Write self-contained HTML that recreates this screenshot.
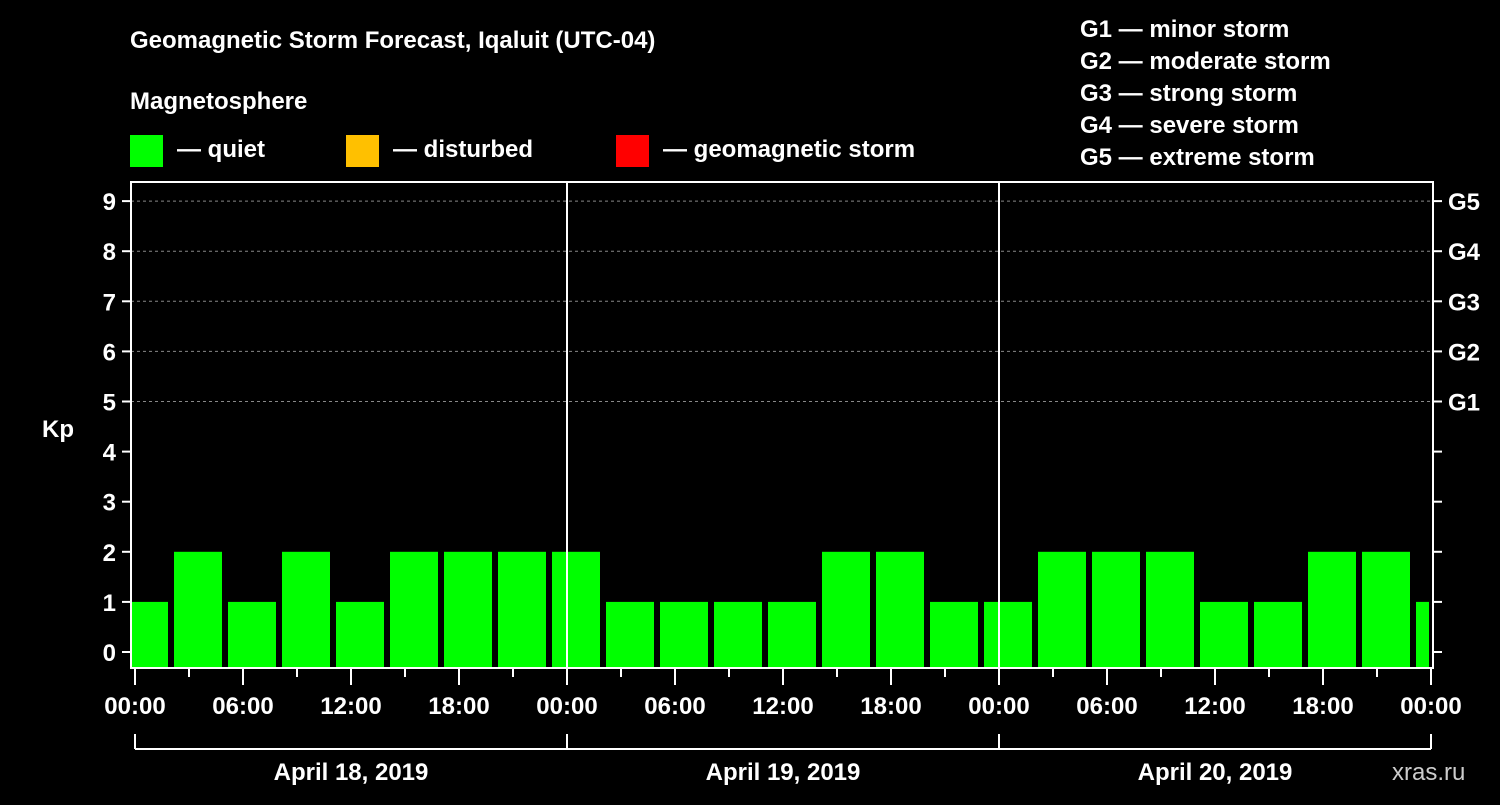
<!DOCTYPE html>
<html><head><meta charset="utf-8"><style>
body{margin:0;background:#000;width:1500px;height:800px;overflow:hidden}
svg text{font-family:"Liberation Sans",sans-serif;font-weight:bold;fill:#fff}
</style></head><body>
<svg id="c" width="1500" height="800">
<text x="130" y="48" font-size="24">Geomagnetic Storm Forecast, Iqaluit (UTC-04)</text>
<text x="130" y="109" font-size="24">Magnetosphere</text>
<rect x="130" y="135" width="33" height="32" fill="#00ff00"/>
<text x="177" y="157" font-size="24">— quiet</text>
<rect x="346" y="135" width="33" height="32" fill="#ffc000"/>
<text x="393" y="157" font-size="24">— disturbed</text>
<rect x="616" y="135" width="33" height="32" fill="#ff0000"/>
<text x="663" y="157" font-size="24">— geomagnetic storm</text>
<g font-size="24">
<text x="1080" y="37">G1 — minor storm</text>
<text x="1080" y="69">G2 — moderate storm</text>
<text x="1080" y="101">G3 — strong storm</text>
<text x="1080" y="133">G4 — severe storm</text>
<text x="1080" y="165">G5 — extreme storm</text>
</g>
<text x="42" y="437" font-size="24">Kp</text>
<text x="1392" y="780" font-size="24" fill="#ccc" style="font-weight:normal;fill:#ccc">xras.ru</text>
<g id="plot"></g>
</svg>
<script>
const kpValues=[1,2,1,2,1,2,2,2,2,1,1,1,1,2,2,1,1,2,2,2,1,1,2,2,1];
const yTicks=[0,1,2,3,4,5,6,7,8,9];
const gLabels=["G1","G2","G3","G4","G5"];
const xTickLabels=["00:00","06:00","12:00","18:00","00:00","06:00","12:00","18:00","00:00","06:00","12:00","18:00","00:00"];
const dayLabels=["April 18, 2019","April 19, 2019","April 20, 2019"];
const NS="http://www.w3.org/2000/svg";
const g=document.getElementById('plot');
const X0=135,PXH=18,Y0=652,PXK=50.1,TOP=182,BOT=668,LEFT=131,RIGHT=1433;
const xs=h=>X0+h*PXH, ys=k=>Y0-k*PXK;
function mk(t,a,p){const e=document.createElementNS(NS,t);for(const k in a)e.setAttribute(k,a[k]);(p||g).appendChild(e);return e;}
const clip=mk('clipPath',{id:'pc'});mk('rect',{x:LEFT+1,y:TOP,width:RIGHT-LEFT-5,height:BOT-TOP},clip);
yTicks.forEach(k=>{
 if(k>=5){const l=mk('line',{x1:LEFT,x2:RIGHT,y1:ys(k),y2:ys(k),stroke:'#888','stroke-dasharray':'3,3','stroke-width':1});
 }
 const t=mk('line',{x1:LEFT-9,x2:LEFT,y1:ys(k),y2:ys(k),stroke:'#fff','stroke-width':2});
 
 const t2=mk('line',{x1:RIGHT,x2:RIGHT+9,y1:ys(k),y2:ys(k),stroke:'#fff','stroke-width':2});
 
 const tx=mk('text',{x:LEFT-15,y:ys(k)+9,'text-anchor':'end','font-size':24});tx.textContent=k;
 
});
gLabels.forEach((s,i)=>{const tx=mk('text',{x:RIGHT+15,y:ys(5+i)+9,'font-size':24});tx.textContent=s;
 });
const bg=mk('g',{'clip-path':'url(#pc)'});
kpValues.forEach((v,i)=>{const c=xs(i*3+0.5);
 const col=v>=5?'#ff0000':(v>=4?'#ffc000':'#00ff00');
 const r=mk('rect',{x:c-24,y:ys(v),width:48,height:BOT-1-ys(v),fill:col},bg);
 });
[1,2].forEach(d=>{const l=mk('line',{x1:xs(d*24),x2:xs(d*24),y1:TOP,y2:BOT,stroke:'#fff','stroke-width':2});
 });
const ax=mk('rect',{x:LEFT,y:TOP,width:RIGHT-LEFT,height:BOT-TOP,fill:'none',stroke:'#fff','stroke-width':2});

for(let h=0;h<=72;h+=3){const maj=h%6==0;
 const l=mk('line',{x1:xs(h),x2:xs(h),y1:BOT,y2:BOT+(maj?17:9),stroke:'#fff','stroke-width':2});
 }
xTickLabels.forEach((s,i)=>{const tx=mk('text',{x:xs(i*6),y:714,'text-anchor':'middle','font-size':24});tx.textContent=s;
 });
const br=mk('line',{x1:xs(0),x2:xs(72),y1:749,y2:749,stroke:'#fff','stroke-width':2});

[0,1,2,3].forEach(d=>{const l=mk('line',{x1:xs(d*24),x2:xs(d*24),y1:734,y2:749,stroke:'#fff','stroke-width':2});
 });
dayLabels.forEach((s,i)=>{const tx=mk('text',{x:xs(i*24+12),y:780,'text-anchor':'middle','font-size':24});tx.textContent=s;
 });
</script>
</body></html>
